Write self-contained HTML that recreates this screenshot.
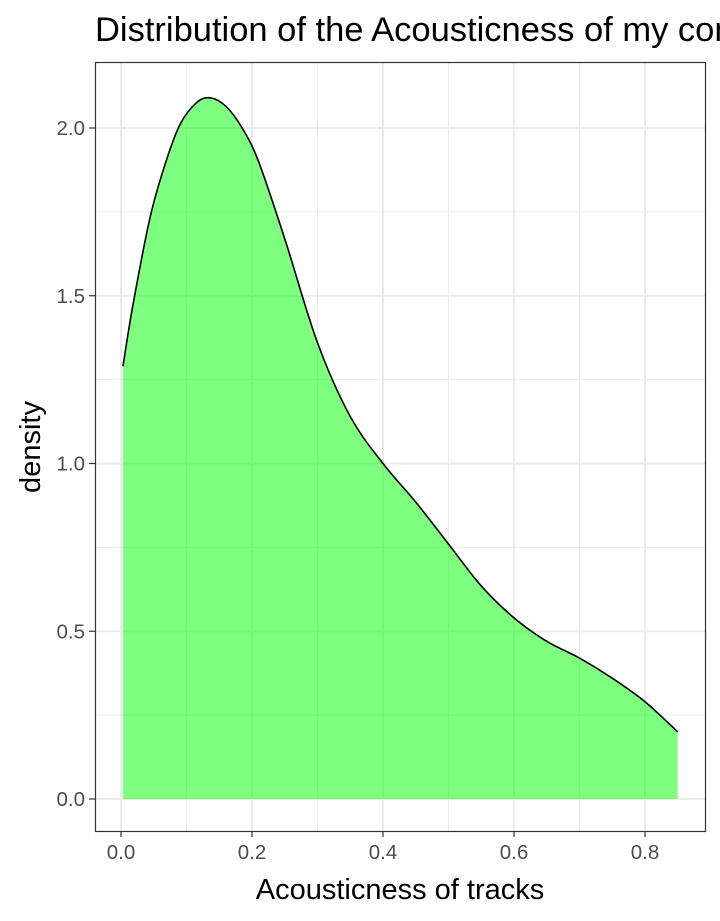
<!DOCTYPE html>
<html><head><meta charset="utf-8"><style>
body{margin:0;background:#fff;}
svg{display:block;font-family:"Liberation Sans",Arial,sans-serif;}
</style></head><body>
<svg id="chart" width="720" height="921">
<text x="95" y="41" font-size="34.5" fill="#000">Distribution of the Acousticness of my communities</text>
<g id="grid"></g>
<g id="marks"></g>
<rect x="95.5" y="62.5" width="610" height="769" fill="none" stroke="#333" stroke-width="1.2"/>
<g id="axes"></g>
<text x="400" y="899" font-size="29" text-anchor="middle" fill="#000">Acousticness of tracks</text>
<text transform="translate(40,447) rotate(-90)" font-size="29" text-anchor="middle" fill="#000">density</text>
</svg>
<script>
const xs=[0.003,0.018,0.044,0.067,0.09,0.115,0.136,0.16,0.185,0.21,0.25,0.3,0.35,0.4,0.45,0.5,0.55,0.6,0.65,0.7,0.75,0.8,0.85];
const ys=[1.29,1.47,1.73,1.89,2.01,2.075,2.09,2.065,2.0,1.9,1.67,1.36,1.14,1.0,0.885,0.76,0.635,0.54,0.47,0.42,0.36,0.29,0.20];
const xTicks=[0,0.2,0.4,0.6,0.8];
const xTickLabels=["0.0","0.2","0.4","0.6","0.8"];
const yTicks=[0,0.5,1,1.5,2];
const yTickLabels=["0.0","0.5","1.0","1.5","2.0"];
const xMinor=[0.1,0.3,0.5,0.7];
const yMinor=[0.25,0.75,1.25,1.75];
const X=v=>121+655*v, Y=v=>799-335.5*v;
const NS="http://www.w3.org/2000/svg";
function mk(tag,attrs,parent){const e=document.createElementNS(NS,tag);for(const k in attrs)e.setAttribute(k,attrs[k]);parent.appendChild(e);return e;}
const grid=document.getElementById('grid'),marks=document.getElementById('marks'),axes=document.getElementById('axes');
xMinor.forEach(v=>{const l=mk('line',{x1:X(v),x2:X(v),y1:62,y2:831,stroke:'#ebebeb','stroke-width':1},grid);

});
yMinor.forEach(v=>{const l=mk('line',{x1:95,x2:705,y1:Y(v),y2:Y(v),stroke:'#ebebeb','stroke-width':1},grid);

});
xTicks.forEach((v,i)=>{const l=mk('line',{x1:X(v),x2:X(v),y1:62,y2:831,stroke:'#ebebeb','stroke-width':2},grid);


const t=mk('line',{x1:X(v),x2:X(v),y1:831,y2:837,stroke:'#333','stroke-width':1.2},axes);


const tx=mk('text',{x:X(v),y:859,'font-size':20.5,'text-anchor':'middle',fill:'#4d4d4d'},axes);tx.textContent=xTickLabels[i];

});
yTicks.forEach((v,i)=>{const l=mk('line',{x1:95,x2:705,y1:Y(v),y2:Y(v),stroke:'#ebebeb','stroke-width':2},grid);


const t=mk('line',{x1:89,x2:95,y1:Y(v),y2:Y(v),stroke:'#333','stroke-width':1.2},axes);


const tx=mk('text',{x:85,y:Y(v)+7,'font-size':20.5,'text-anchor':'end',fill:'#4d4d4d'},axes);tx.textContent=yTickLabels[i];

});
function smooth(pts){let d=`M${pts[0][0]},${pts[0][1]}`;for(let i=0;i<pts.length-1;i++){const p0=pts[Math.max(0,i-1)],p1=pts[i],p2=pts[i+1],p3=pts[Math.min(pts.length-1,i+2)];
const c1=[p1[0]+(p2[0]-p0[0])/6,p1[1]+(p2[1]-p0[1])/6],c2=[p2[0]-(p3[0]-p1[0])/6,p2[1]-(p3[1]-p1[1])/6];d+=` C${c1[0]},${c1[1]} ${c2[0]},${c2[1]} ${p2[0]},${p2[1]}`;}return d;}
const pts=xs.map((v,i)=>[X(v),Y(ys[i])]);
const curve=smooth(pts);
const area=mk('path',{d:`M${X(xs[0])},${Y(0)} L${pts[0][0]},${pts[0][1]}`+curve.slice(curve.indexOf(' C'))+` L${X(xs[xs.length-1])},${Y(0)} Z`,fill:'#00ff00','fill-opacity':0.5},marks);


const line=mk('path',{d:curve,fill:'none',stroke:'#000','stroke-width':1.6},marks);


</script>
</body></html>
